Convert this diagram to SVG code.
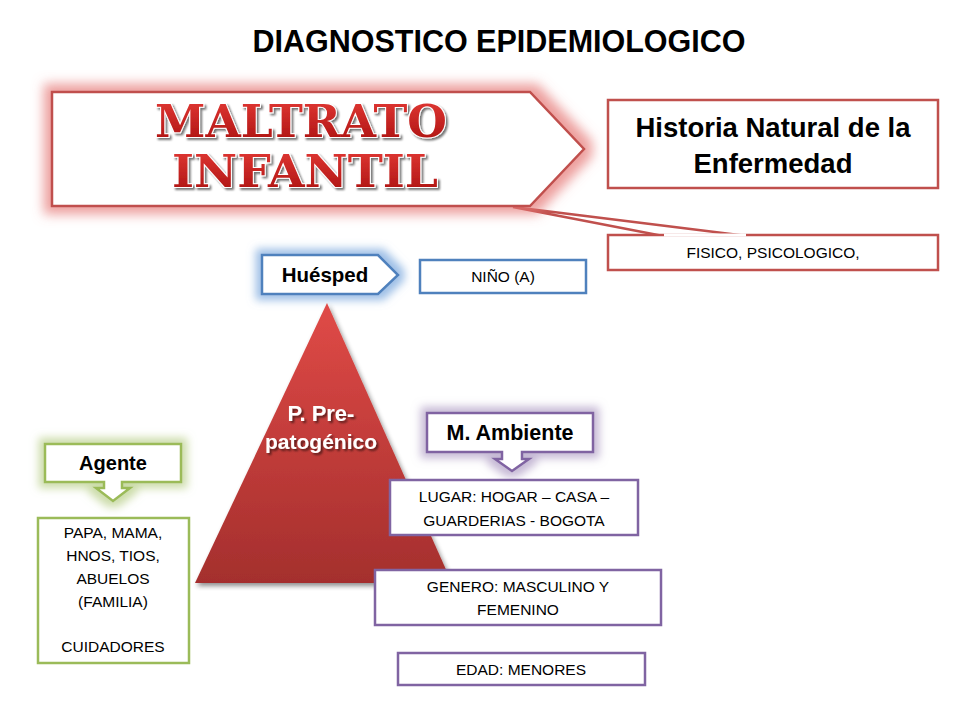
<svg xmlns="http://www.w3.org/2000/svg" width="960" height="720" viewBox="0 0 960 720">
<defs>
<style>
.t{font-family:"Liberation Sans",Arial,sans-serif;fill:#000;text-anchor:middle}
.b{font-weight:bold}
.body{font-size:15.5px}
.red{fill:#fff;stroke:#c0504d;stroke-width:2.5}
.blue{fill:#fff;stroke:#4f81bd;stroke-width:2.5}
.purple{fill:#fff;stroke:#8064a2;stroke-width:2.5}
.green{fill:#fff;stroke:#9bbb59;stroke-width:2.5}
</style>
<filter id="glowR" x="-20%" y="-40%" width="140%" height="180%">
<feMorphology in="SourceAlpha" operator="dilate" radius="7" result="d"/>
<feGaussianBlur in="d" stdDeviation="6" result="b"/>
<feFlood flood-color="#e57573" flood-opacity="0.7"/>
<feComposite in2="b" operator="in" result="g"/>
<feMerge><feMergeNode in="g"/><feMergeNode in="SourceGraphic"/></feMerge>
</filter>
<filter id="glowB" x="-40%" y="-80%" width="180%" height="260%">
<feMorphology in="SourceAlpha" operator="dilate" radius="5" result="d"/>
<feGaussianBlur in="d" stdDeviation="4.5" result="b"/>
<feFlood flood-color="#8db4e2" flood-opacity="0.85"/>
<feComposite in2="b" operator="in" result="g"/>
<feMerge><feMergeNode in="g"/><feMergeNode in="SourceGraphic"/></feMerge>
</filter>
<filter id="glowP" x="-40%" y="-80%" width="180%" height="260%">
<feMorphology in="SourceAlpha" operator="dilate" radius="5" result="d"/>
<feGaussianBlur in="d" stdDeviation="4.5" result="b"/>
<feFlood flood-color="#b3a2c7" flood-opacity="0.75"/>
<feComposite in2="b" operator="in" result="g"/>
<feMerge><feMergeNode in="g"/><feMergeNode in="SourceGraphic"/></feMerge>
</filter>
<filter id="glowG" x="-40%" y="-80%" width="180%" height="260%">
<feMorphology in="SourceAlpha" operator="dilate" radius="5" result="d"/>
<feGaussianBlur in="d" stdDeviation="4.5" result="b"/>
<feFlood flood-color="#c3d69b" flood-opacity="0.85"/>
<feComposite in2="b" operator="in" result="g"/>
<feMerge><feMergeNode in="g"/><feMergeNode in="SourceGraphic"/></feMerge>
</filter>
<filter id="shadow" x="-20%" y="-20%" width="140%" height="140%">
<feGaussianBlur in="SourceAlpha" stdDeviation="2.5"/>
<feOffset dx="2" dy="3" result="o"/>
<feComponentTransfer><feFuncA type="linear" slope="0.45"/></feComponentTransfer>
<feMerge><feMergeNode/><feMergeNode in="SourceGraphic"/></feMerge>
</filter>
<filter id="tshadow" x="-10%" y="-30%" width="120%" height="160%">
<feGaussianBlur in="SourceAlpha" stdDeviation="1.2"/>
<feOffset dx="1.5" dy="2"/>
<feComponentTransfer><feFuncA type="linear" slope="0.55"/></feComponentTransfer>
<feMerge><feMergeNode/><feMergeNode in="SourceGraphic"/></feMerge>
</filter>
<linearGradient id="tri" x1="0" y1="0" x2="0" y2="1">
<stop offset="0" stop-color="#e04a47"/>
<stop offset="1" stop-color="#a42f2d"/>
</linearGradient>
<linearGradient id="mal" x1="0" y1="0" x2="0" y2="1">
<stop offset="0" stop-color="#e43a36"/>
<stop offset="1" stop-color="#a8100f"/>
</linearGradient>
</defs>
<rect width="960" height="720" fill="#fff"/>

<text class="t b" x="499" y="52" font-size="30.5">DIAGNOSTICO EPIDEMIOLOGICO</text>

<g id="connectors">
<polygon points="513,207 663,236 747,236" fill="#fff" stroke="#c0504d" stroke-width="2.5" stroke-linejoin="miter"/>
</g>

<g id="maltrato">
<polygon class="red" filter="url(#glowR)" points="52,92 530,92 584,149 530,206 52,206"/>
<g filter="url(#tshadow)" font-family="'DejaVu Serif',serif" font-weight="bold" font-size="44" fill="url(#mal)" stroke="#fff" stroke-width="2" paint-order="stroke" text-anchor="middle">
<text x="301" y="137" textLength="292" lengthAdjust="spacingAndGlyphs">MALTRATO</text>
<text x="305" y="187" textLength="266" lengthAdjust="spacingAndGlyphs">INFANTIL</text>
</g>
</g>

<g id="historia">
<rect class="red" x="608" y="100" width="330" height="88"/>
<text class="t b" x="773" y="137" font-size="27.5">Historia Natural de la</text>
<text class="t b" x="773" y="173" font-size="27.5">Enfermedad</text>
</g>

<g id="fisico">
<rect class="red" x="608" y="235" width="330" height="35"/>
<line x1="664" y1="235" x2="746" y2="235" stroke="#fff" stroke-width="3"/>
<text class="t body" x="773" y="258">FISICO, PSICOLOGICO,</text>
</g>

<g id="huesped">
<polygon class="blue" filter="url(#glowB)" points="262,255 378,255 398,275 378,294 262,294"/>
<text class="t b" x="325" y="282" font-size="20.5">Huésped</text>
</g>

<g id="nino">
<rect class="blue" x="420" y="260" width="166" height="33"/>
<text class="t body" x="503" y="282">NIÑO (A)</text>
</g>

<g id="triangulo">
<polygon points="327,303 195,583 452,583" fill="url(#tri)" filter="url(#shadow)"/>
<g filter="url(#tshadow)">
<text class="t b" x="321" y="421" font-size="22" style="fill:#fff">P. Pre-</text>
<text class="t b" x="321" y="449" font-size="21" style="fill:#fff">patogénico</text>
</g>
</g>

<g id="ambiente">
<path class="purple" filter="url(#glowP)" d="M427,413 H593 V452 H522 V459 H529 L512,471 L495,459 H502 V452 H427 Z"/>
<text class="t b" x="510" y="440" font-size="21.5">M. Ambiente</text>
</g>

<g id="lugar">
<rect class="purple" x="390" y="480" width="248" height="55"/>
<text class="t body" x="514" y="502">LUGAR: HOGAR – CASA –</text>
<text class="t body" x="514" y="526">GUARDERIAS - BOGOTA</text>
</g>

<g id="genero">
<rect class="purple" x="375" y="570" width="286" height="55"/>
<text class="t body" x="518" y="592">GENERO: MASCULINO Y</text>
<text class="t body" x="518" y="615">FEMENINO</text>
</g>

<g id="edad">
<rect class="purple" x="398" y="653" width="247" height="32"/>
<text class="t body" x="521" y="675">EDAD: MENORES</text>
</g>

<g id="agente">
<path class="green" filter="url(#glowG)" d="M45,444 H181 V482 H122 V488 H130 L113,501 L96,488 H104 V482 H45 Z"/>
<text class="t b" x="113" y="470" font-size="20">Agente</text>
</g>

<g id="familia">
<rect class="green" x="38" y="518" width="151" height="145"/>
<text class="t body" x="113" y="538">PAPA, MAMA,</text>
<text class="t body" x="113" y="561">HNOS, TIOS,</text>
<text class="t body" x="113" y="584">ABUELOS</text>
<text class="t body" x="113" y="607">(FAMILIA)</text>
<text class="t body" x="113" y="652">CUIDADORES</text>
</g>
</svg>
